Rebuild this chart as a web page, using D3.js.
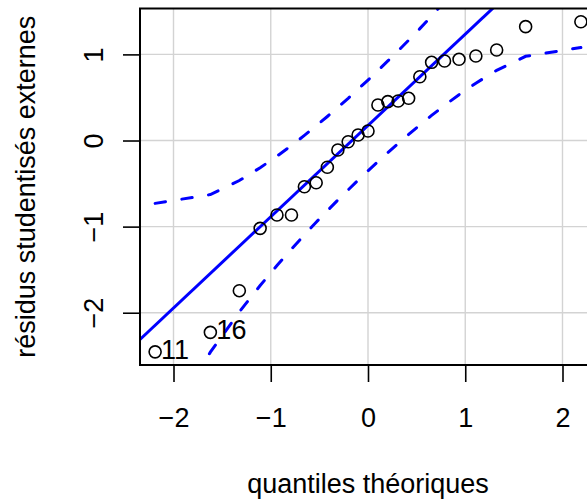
<!DOCTYPE html>
<html>
<head>
<meta charset="utf-8">
<script src="https://cdn.jsdelivr.net/npm/d3@7"></script>
<style>
  html, body { margin: 0; padding: 0; background: #fff; }
  svg { display: block; }
  text { font-family: "Liberation Sans", Arial, Helvetica, sans-serif; fill: #000; }
</style>
</head>
<body>
<svg id="chart" width="587" height="500"></svg>
<script>
// ---- data ----
const theoQuantiles = [-2.189,-1.621,-1.323,-1.109,-0.936,-0.787,-0.654,-0.533,-0.418,-0.310,-0.204,-0.102,0,0.102,0.204,0.310,0.418,0.533,0.654,0.787,0.936,1.109,1.323,1.621,2.189];
const studResiduals = [-2.454,-2.228,-1.744,-1.020,-0.865,-0.865,-0.537,-0.490,-0.311,-0.110,-0.014,0.064,0.110,0.412,0.451,0.459,0.490,0.741,0.908,0.923,0.943,0.981,1.051,1.322,1.379];
const envUpper = [-0.730,-0.628,-0.465,-0.316,-0.182,-0.058,0.059,0.170,0.279,0.385,0.490,0.596,0.702,0.811,0.924,1.041,1.165,1.299,1.446,1.611,1.802,2.034,2.341,2.808,3.911];
const envLower = [-3.561,-2.458,-1.991,-1.684,-1.452,-1.261,-1.096,-0.949,-0.815,-0.691,-0.574,-0.461,-0.352,-0.246,-0.140,-0.035,0.071,0.180,0.291,0.408,0.532,0.666,0.815,0.978,1.080];
const refIntercept = 0.175;
const refSlope = 1.06;
const labelIdx = [0, 1];
const labelText = ["11", "16"];
const xTicks = [-2, -1, 0, 1, 2];
const yTicks = [-2, -1, 0, 1];
const xDomain = [-2.3445, 2.3445];
const yDomain = [-2.607, 1.533];
const xTitle = "quantiles théoriques";
const yTitle = "résidus studentisés externes";

// ---- layout ----
const plot = { left: 140, top: 8.5, right: 596, bottom: 365 };
const FS = 27;
const svg = d3.select("#chart");

const x = d3.scaleLinear().domain(xDomain).range([plot.left, plot.right]);
const y = d3.scaleLinear().domain(yDomain).range([plot.bottom, plot.top]);

svg.append("defs").append("clipPath").attr("id", "clip")
  .append("rect")
  .attr("x", plot.left).attr("y", plot.top)
  .attr("width", plot.right - plot.left).attr("height", plot.bottom - plot.top);

// grid
const grid = svg.append("g").attr("clip-path", "url(#clip)");
grid.selectAll("line.gx").data(xTicks).join("line")
  .attr("x1", d => x(d)).attr("x2", d => x(d))
  .attr("y1", plot.top).attr("y2", plot.bottom)
  .attr("stroke", "#d3d3d3").attr("stroke-width", 1.4);
grid.selectAll("line.gy").data(yTicks).join("line")
  .attr("class", "gy")
  .attr("x1", plot.left).attr("x2", plot.right)
  .attr("y1", d => y(d)).attr("y2", d => y(d))
  .attr("stroke", "#d3d3d3").attr("stroke-width", 1.4);

// axes
const xAxis = svg.append("g").attr("transform", `translate(0,${plot.bottom})`)
  .call(d3.axisBottom(x).tickValues(xTicks).tickSize(17).tickFormat(d3.format("d")));
xAxis.select(".domain").remove();
xAxis.selectAll(".tick line").attr("stroke", "#000").attr("stroke-width", 1.6);
xAxis.selectAll(".tick text")
  .attr("y", 62).attr("dy", 0)
  .attr("font-size", FS).attr("fill", "#000")
  .style("font-family", "'Liberation Sans', Arial, sans-serif");

const yAxis = svg.append("g").attr("transform", `translate(${plot.left},0)`)
  .call(d3.axisLeft(y).tickValues(yTicks).tickSize(17).tickFormat(d3.format("d")));
yAxis.select(".domain").remove();
yAxis.selectAll(".tick line").attr("stroke", "#000").attr("stroke-width", 1.6);
yAxis.selectAll(".tick text")
  .attr("x", 0).attr("y", 0).attr("dy", 0)
  .attr("text-anchor", "middle")
  .attr("transform", "translate(-37,0) rotate(-90)")
  .attr("font-size", FS).attr("fill", "#000")
  .style("font-family", "'Liberation Sans', Arial, sans-serif");

// content (clipped)
const content = svg.append("g").attr("clip-path", "url(#clip)");

// reference line
content.append("line")
  .attr("x1", x(xDomain[0])).attr("y1", y(refIntercept + refSlope * xDomain[0]))
  .attr("x2", x(xDomain[1])).attr("y2", y(refIntercept + refSlope * xDomain[1]))
  .attr("stroke", "#0000ff").attr("stroke-width", 3);

// envelope
const line = d3.line().x(d => x(d[0])).y(d => y(d[1]));
[envUpper, envLower].forEach(env => {
  content.append("path")
    .attr("d", line(theoQuantiles.map((q, i) => [q, env[i]])))
    .attr("fill", "none")
    .attr("stroke", "#0000ff").attr("stroke-width", 3)
    .attr("stroke-linecap", "round")
    .attr("stroke-dasharray", "10.5,16.5");
});

// points
svg.append("g").selectAll("circle")
  .data(theoQuantiles.map((q, i) => [q, studResiduals[i]]))
  .join("circle")
  .attr("cx", d => x(d[0])).attr("cy", d => y(d[1]))
  .attr("r", 6)
  .attr("fill", "none").attr("stroke", "#000").attr("stroke-width", 1.6);

// point labels
svg.append("g").selectAll("text")
  .data(labelIdx)
  .join("text")
  .attr("x", i => x(theoQuantiles[i]) + 6)
  .attr("y", i => y(studResiduals[i]) + 7)
  .attr("font-size", FS)
  .text((i, k) => labelText[k]);

// box
svg.append("rect")
  .attr("x", plot.left).attr("y", plot.top)
  .attr("width", plot.right - plot.left).attr("height", plot.bottom - plot.top)
  .attr("fill", "none").attr("stroke", "#000").attr("stroke-width", 2);

// titles
svg.append("text")
  .attr("x", (plot.left + plot.right) / 2).attr("y", 493)
  .attr("text-anchor", "middle").attr("font-size", FS)
  .text(xTitle);
svg.append("text")
  .attr("transform", `translate(35,${(plot.top + plot.bottom) / 2}) rotate(-90)`)
  .attr("text-anchor", "middle").attr("font-size", FS)
  .text(yTitle);
</script>
</body>
</html>
